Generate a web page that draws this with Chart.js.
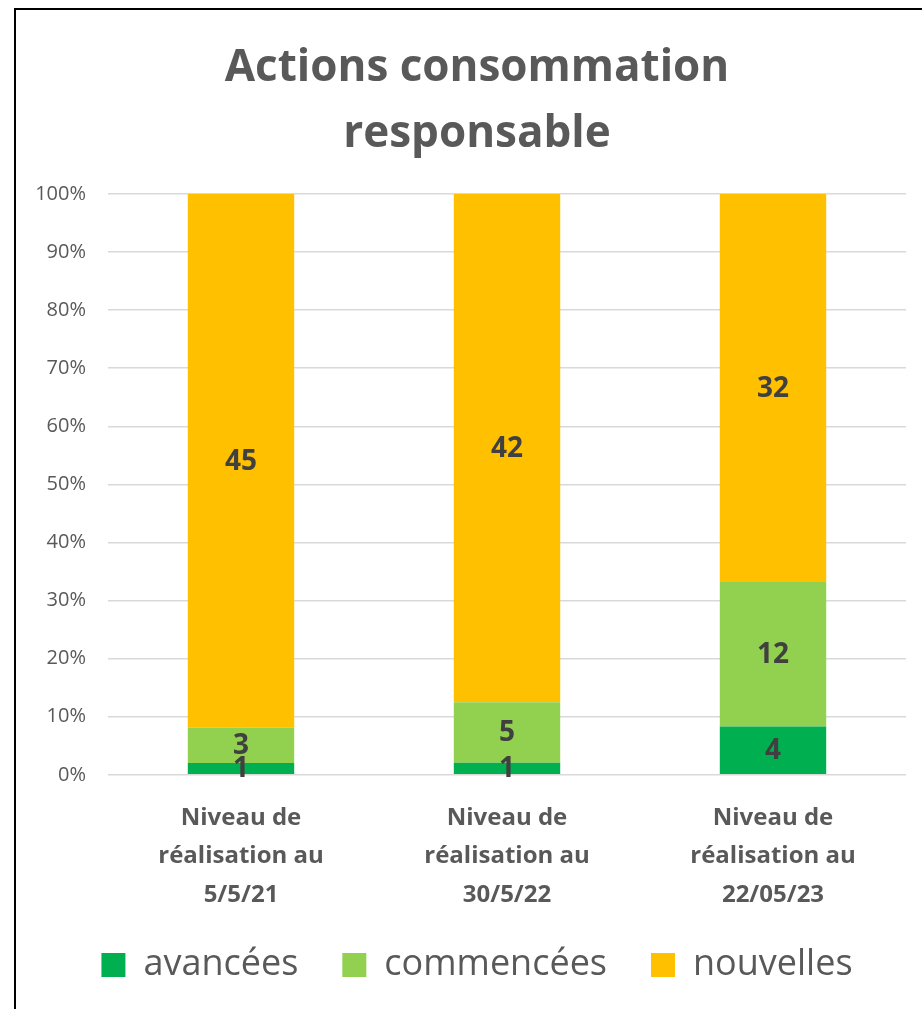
<!DOCTYPE html>
<html><head><meta charset="utf-8">
<script src="https://cdn.jsdelivr.net/npm/chart.js@4.4.0/dist/chart.umd.min.js"></script>
<style>
html,body{margin:0;padding:0;background:#fff;overflow:hidden;width:922px;height:1009px;}
#frame{position:absolute;left:14px;top:8px;width:930px;height:1010px;border-left:2px solid #000;border-top:2px solid #000;background:#fff;}
#wrap{position:absolute;left:0;top:0;width:920px;height:1000px;}
</style></head><body>
<div id="frame"><div id="wrap"><canvas id="c" width="920" height="1000"></canvas></div></div>
<script>
const titleLines = ["Actions consommation", "responsable"];
const categories = [
  ["Niveau de", "réalisation au", "5/5/21"],
  ["Niveau de", "réalisation au", "30/5/22"],
  ["Niveau de", "réalisation au", "22/05/23"]
];
const seriesNames = ["avancées", "commencées", "nouvelles"];
const avancees = [1, 1, 4];
const commencees = [3, 5, 12];
const nouvelles = [45, 42, 32];
const yTicks = [0, 10, 20, 30, 40, 50, 60, 70, 80, 90, 100];
const colors = ["#00B050", "#92D050", "#FFC000"];

const counts = [avancees, commencees, nouvelles];
const totals = categories.map((_, i) => counts.reduce((s, arr) => s + arr[i], 0));
const pct = counts.map(arr => arr.map((v, i) => v / totals[i] * 100));

const FONT = "'Open Sans', sans-serif";

const dataLabels = {
  id: 'dataLabels',
  afterDatasetsDraw(chart) {
    const ctx = chart.ctx;
    ctx.save();
    ctx.font = "bold 28px " + FONT;
    ctx.fillStyle = "#404040";
    ctx.textAlign = "center";
    ctx.textBaseline = "middle";
    chart.data.datasets.forEach((ds, di) => {
      const meta = chart.getDatasetMeta(di);
      meta.data.forEach((bar, i) => {
        const y = (bar.y + bar.base) / 2;
        ctx.fillText(String(counts[di][i]), bar.x, y + 1);
      });
    });
    ctx.restore();
  }
};

const widenYLabelArea = {
  id: 'widenYLabelArea',
  afterLayout(chart) { chart.scales.y.left = 0; }
};

new Chart(document.getElementById('c'), {
  type: 'bar',
  data: {
    labels: categories,
    datasets: seriesNames.map((n, k) => ({
      label: n,
      data: pct[k],
      backgroundColor: colors[k],
      borderWidth: 0,
      barPercentage: 0.4,
      categoryPercentage: 1.0
    }))
  },
  options: {
    responsive: false,
    animation: false,
    devicePixelRatio: 1,
    layout: { padding: { left: 32, right: 30, top: 0, bottom: 17 } },
    plugins: {
      title: {
        display: true,
        text: titleLines,
        color: "#595959",
        font: { family: FONT, size: 44, weight: 'bold', lineHeight: 1.5 },
        padding: { top: 25, bottom: 27 }
      },
      legend: {
        position: 'bottom',
        labels: {
          color: "#595959",
          font: { family: FONT, size: 36 },
          boxWidth: 24,
          boxHeight: 24,
          padding: 44
        }
      },
      tooltip: { enabled: false }
    },
    scales: {
      x: {
        stacked: true,
        grid: { display: false, drawTicks: false },
        border: { display: false },
        ticks: {
          color: "#595959",
          font: { family: FONT, size: 24, weight: 'bold', lineHeight: 1.6 },
          padding: 24,
          maxRotation: 0
        },
        afterFit(scale) { scale.height -= 35; }
      },
      y: {
        stacked: true,
        min: 0, max: 100,
        afterBuildTicks(scale) { scale.ticks = yTicks.map(v => ({ value: v })); },
        afterFit(scale) { scale.width = 60; },
        grid: { color: "#d9d9d9", lineWidth: 1.5, drawTicks: false },
        border: { display: false },
        ticks: {
          color: "#595959",
          font: { family: FONT, size: 20 },
          padding: 22,
          callback: v => v + "%"
        }
      }
    }
  },
  plugins: [dataLabels, widenYLabelArea]
});
</script>
</body></html>
